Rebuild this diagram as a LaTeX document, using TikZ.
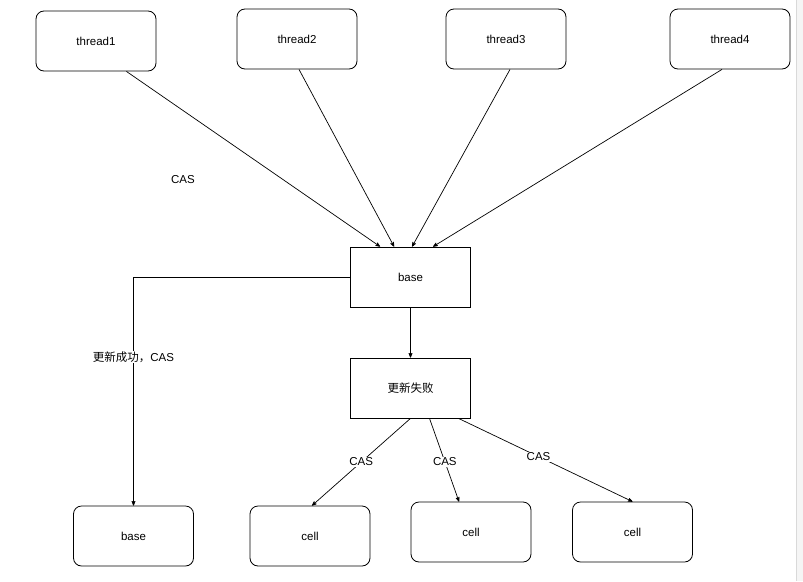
\documentclass[tikz,border=0pt]{standalone}
\usepackage{fontspec}
\setmainfont{Liberation Sans}
\newfontfamily\cjk{Noto Sans CJK SC}
\usetikzlibrary{arrows}

\tikzset{
  rbox/.style={draw, rounded corners=8pt, minimum width=120pt, minimum height=60pt, line width=0.8pt},
  sbox/.style={draw, minimum width=120pt, minimum height=60pt, line width=0.8pt},
  arr/.style={-stealth', line width=0.7pt},
  lbl/.style={fill=white, inner sep=1pt},
}

\begin{document}
\begin{tikzpicture}[x=1pt,y=-1pt,font=\fontsize{11.5}{13}\selectfont]
			\useasboundingbox (0,0) rectangle (803,581);
			\fill[white] (0,0) rectangle (803,581);
			\fill[black!4] (796,0) rectangle (803,581);
			\draw[black!15] (796,0) -- (796,581);
			% top row
			\node[rbox] (t1) at (96,41) {thread1};
			\node[rbox] (t2) at (297,39) {thread2};
			\node[rbox] (t3) at (506,39) {thread3};
			\node[rbox] (t4) at (730,39) {thread4};
			\node (cas) at (183,180) {CAS};
			% middle
			\node[sbox] (base) at (410.5,277) {base};
			\node[sbox] (fail) at (410.5,388) {\cjk 更新失败};
			% bottom row
			\node[rbox] (b0) at (133.5,536) {base};
			\node[rbox] (c1) at (310,536) {cell};
			\node[rbox] (c2) at (471,532) {cell};
			\node[rbox] (c3) at (632.5,532) {cell};
			% arrows
			\draw[arr] ([xshift=-30pt]t1.south east) -- ([xshift=30pt]base.north west);
			\draw[arr] ([xshift=2pt]t2.south) -- ([xshift=44pt]base.north west);
			\draw[arr] ([xshift=4pt]t3.south) -- ([xshift=62pt]base.north west);
			\draw[arr] ([xshift=-8pt]t4.south) -- ([xshift=83pt]base.north west);
			\draw[arr] (base.west) -| (b0.north)
				node[lbl, pos=0.675] {\cjk 更新成功，\rmfamily CAS};
			\draw[arr] (base) -- (fail);
			\draw[arr] (fail.south) -- ([xshift=2pt]c1.north) node[lbl, midway] {CAS};
			\draw[arr] ([xshift=19pt]fail.south) -- ([xshift=-12pt]c2.north) node[lbl, pos=0.52] {CAS};
			\draw[arr] ([xshift=48pt]fail.south) -- (c3.north) node[lbl, pos=0.46] {CAS};
		\end{tikzpicture}
\end{document}
